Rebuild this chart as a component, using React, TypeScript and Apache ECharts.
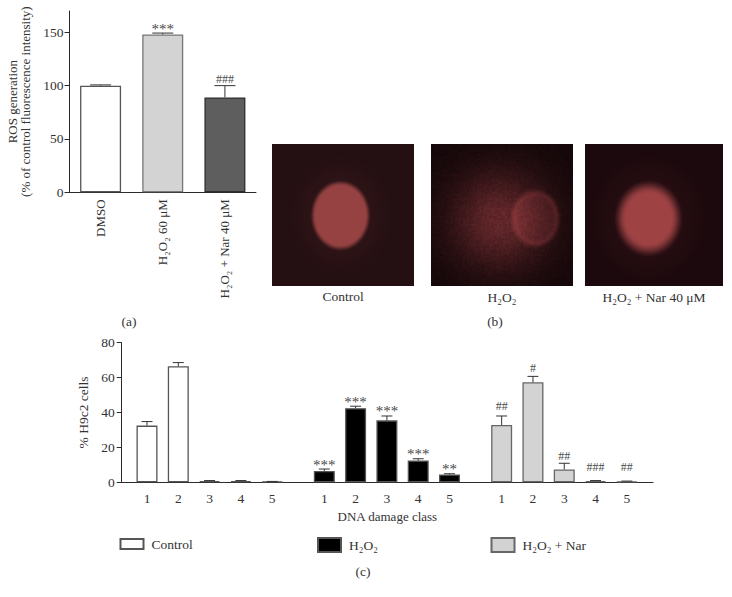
import React, { useEffect, useRef } from "react";
import * as echarts from "echarts";

const FONT = '"Liberation Serif", serif';
const INK = "#2b2b2b";

// Panel (a)
const rosCategories = ["DMSO", "H₂O₂ 60 μM", "H₂O₂ + Nar 40 μM"];
const rosValues = [100, 148, 89];
const rosHighs = [100.7, 149.3, 100];
const rosMarks = ["", "***", "###"];
const rosColors = ["#ffffff", "#d3d3d3", "#5e5e5e"];
const rosBorders = ["#555555", "#777777", "#2e2e2e"];
const rosTicks = [0, 50, 100, 150];

// Panel (c)
const damageClasses = ["1", "2", "3", "4", "5"];
const controlValues = [32.5, 66.5, 0.7, 0.7, 0.4];
const controlHighs = [34.8, 68.6, 1, 1, 0.5];
const controlMarks = ["", "", "", "", ""];
const h2o2Values = [6.5, 42.5, 35.5, 12.5, 4.5];
const h2o2Highs = [7.6, 43.6, 38, 13.5, 4.9];
const h2o2Marks = ["***", "***", "***", "***", "**"];
const narValues = [32.8, 57.3, 7.4, 0.7, 0.5];
const narHighs = [38, 60.7, 10.9, 1, 0.7];
const narMarks = ["##", "#", "##", "###", "##"];

// Panel (b) captions
const photoCaptions = ["Control", "H₂O₂", "H₂O₂ + Nar 40 μM"];

function smooth(a: number, b: number, x: number) {
  const t = Math.min(1, Math.max(0, (x - a) / (b - a)));
  return t * t * (3 - 2 * t);
}

// Texture for the micrograph panels: a fixed hash, coarse like the photo's grain.
function grain(x: number, y: number) {
  const bx = Math.floor(x / 2);
  const by = Math.floor(y / 2);
  const h = Math.sin(bx * 127.1 + by * 311.7) * 43758.5453;
  return h - Math.floor(h) - 0.5;
}

function paintPhoto(
  w: number,
  h: number,
  shade: (x: number, y: number, n: number) => [number, number, number]
) {
  const c = document.createElement("canvas");
  c.width = w;
  c.height = h;
  const ctx = c.getContext("2d")!;
  const img = ctx.createImageData(w, h);
  for (let y = 0; y < h; y++) {
    for (let x = 0; x < w; x++) {
      const [r, g, b] = shade(x, y, grain(x, y));
      const i = (y * w + x) * 4;
      img.data[i] = r;
      img.data[i + 1] = g;
      img.data[i + 2] = b;
      img.data[i + 3] = 255;
    }
  }
  ctx.putImageData(img, 0, 0);
  return c.toDataURL("image/png");
}

const mix = (a: number[], b: number[], t: number): [number, number, number] => [
  a[0] + (b[0] - a[0]) * t,
  a[1] + (b[1] - a[1]) * t,
  a[2] + (b[2] - a[2]) * t,
];

function controlPhoto() {
  return paintPhoto(142, 142, (x, y) => {
    const d = Math.hypot((x - 68) / 28, (y - 71) / 33);
    const halo = 0.08 * (1 - smooth(0.9, 2, d));
    return mix([36, 15, 18], [150, 66, 66], Math.max(halo, 1 - smooth(0.88, 1.12, d)));
  });
}

function damagedPhoto() {
  return paintPhoto(142, 142, (x, y, n) => {
    const d = Math.hypot((x - 68) / 58, (y - 76) / 58);
    const ringD = Math.hypot((x - 104) / 24, (y - 74) / 28);
    const cloud = Math.exp(-d * d * 1.5) * 0.6;
    const core = (1 - smooth(0.85, 1.12, ringD)) * 0.22;
    const ring = Math.exp(-Math.pow((ringD - 0.88) / 0.12, 2)) * 0.1;
    const t = Math.max(0, cloud + core + ring + n * (0.04 + cloud * 0.16));
    return mix([20, 7, 9], [150, 60, 64], Math.min(1, t));
  });
}

function narPhoto() {
  return paintPhoto(138, 142, (x, y) => {
    const d = Math.hypot((x - 63) / 26, (y - 74) / 29);
    const core = 1 - smooth(0.85, 1.42, d);
    const far = 0.06 * (1 - smooth(1.3, 2.4, d));
    return mix([28, 9, 13], [158, 66, 68], Math.max(core, far));
  });
}

function errorSeries(
  values: number[],
  highs: number[],
  marks: string[],
  index: number,
  capHalf: number,
  markGaps: number[]
) {
  return {
    type: "custom",
    xAxisIndex: index,
    yAxisIndex: index,
    z: 5,
    silent: true,
    clip: false,
    data: values.map((v, i) => [i, v, highs[i], marks[i]]),
    renderItem: (_: any, api: any) => {
      const i = api.value(0);
      const base = api.coord([i, api.value(1)]);
      const top = api.coord([i, api.value(2)]);
      const mark = marks[i];
      const line = { stroke: "#333333", lineWidth: 1 };
      const children: any[] = [
        { type: "line", shape: { x1: base[0], y1: base[1], x2: base[0], y2: top[1] }, style: line },
        { type: "line", shape: { x1: base[0] - capHalf, y1: top[1], x2: base[0] + capHalf, y2: top[1] }, style: line },
      ];
      if (mark) {
        const star = mark.charAt(0) === "*";
        children.push({
          type: "text",
          x: base[0],
          y: top[1] - markGaps[i] + (star ? 3 : 0),
          style: {
            text: mark,
            fontFamily: FONT,
            fontSize: star ? 15 : 12,
            fill: "#4a4a4a",
            align: "center",
            verticalAlign: "bottom",
          },
        });
      }
      return { type: "group", children };
    },
  };
}

function barSeries(name: string, values: number[], index: number, fill: string, border: string) {
  return {
    name,
    type: "bar",
    xAxisIndex: index,
    yAxisIndex: index,
    barWidth: 21,
    data: values,
    itemStyle: { color: fill, borderColor: border, borderWidth: 1.3 },
  };
}

const axisLine = { lineStyle: { color: INK, width: 1 } };
const axisText = { color: "#333333", fontFamily: FONT, fontSize: 13.5 };

function capt(text: string, x: number, y: number, size = 13.5) {
  return {
    type: "text",
    x,
    y,
    style: {
      text,
      fontFamily: FONT,
      fontSize: size,
      fill: "#333333",
      align: "center",
      verticalAlign: "middle",
      textAlign: "center",
      textVerticalAlign: "middle",
    },
  };
}

function legendAt(name: string, left: number, top: number, h: number) {
  return {
    data: [name],
    left,
    top,
    icon: "rect",
    itemWidth: 23,
    itemHeight: h,
    selectedMode: false,
    padding: 0,
    textStyle: { fontFamily: FONT, fontSize: 13.5, color: "#333333", padding: [0, 0, 0, 3] },
  };
}

export default function App() {
  const ref = useRef<HTMLDivElement>(null);
  useEffect(() => {
    const chart = echarts.init(ref.current!, undefined, { renderer: "svg" });
    const subGrids = [131.35, 308.65, 486];
    const baseLeft = 121.7;
    const baseW = 531.3;
    const subX = (i: number) => ({
      gridIndex: i,
      type: "category",
      data: damageClasses,
      axisLine: { show: false },
      axisTick: { alignWithLabel: true, length: 4, lineStyle: { color: INK } },
      axisLabel: { ...axisText, margin: 9 },
    });
    const subY = (i: number) => ({ gridIndex: i, type: "value", min: 0, max: 80, show: false });
    chart.setOption({
      animation: false,
      backgroundColor: "#ffffff",
      grid: [
        { left: 69.5, top: 11, width: 186.5, height: 181.3 },
        { left: baseLeft, top: 342.7, width: baseW, height: 139.6 },
        { left: subGrids[0], top: 342.7, width: 156.5, height: 139.6 },
        { left: subGrids[1], top: 342.7, width: 156.5, height: 139.6 },
        { left: subGrids[2], top: 342.7, width: 156.5, height: 139.6 },
      ],
      xAxis: [
        {
          gridIndex: 0,
          type: "category",
          data: rosCategories,
          axisLine,
          axisTick: { alignWithLabel: true, length: 4, lineStyle: { color: INK } },
          axisLabel: { ...axisText, fontSize: 13, rotate: 90, margin: 7, interval: 0 },
        },
        {
          gridIndex: 1,
          type: "value",
          min: 0,
          max: 1,
          axisLine: { ...axisLine, onZero: false },
          axisTick: { show: false },
          axisLabel: { show: false },
          splitLine: { show: false },
          name: "DNA damage class",
          nameLocation: "middle",
          nameGap: 28,
          nameTextStyle: { ...axisText, fontSize: 13 },
        },
        subX(2),
        subX(3),
        subX(4),
      ],
      yAxis: [
        {
          gridIndex: 0,
          type: "value",
          min: 0,
          max: 170,
          interval: 50,
          axisLine: { show: true, ...axisLine },
          axisTick: { show: true, length: 5, lineStyle: { color: INK }, customValues: rosTicks },
          axisLabel: { ...axisText, margin: 6, customValues: rosTicks },
          splitLine: { show: false },
          name: "ROS generation\n(% of control fluorescence intensity)",
          nameLocation: "middle",
          nameRotate: 90,
          nameGap: 38,
          nameTextStyle: { ...axisText, fontSize: 13, lineHeight: 13 },
        },
        {
          gridIndex: 1,
          type: "value",
          min: 0,
          max: 80,
          interval: 20,
          axisLine: { show: true, ...axisLine },
          axisTick: { show: true, length: 5, lineStyle: { color: INK } },
          axisLabel: { ...axisText, margin: 7 },
          splitLine: { show: false },
          name: "% H9c2 cells",
          nameLocation: "middle",
          nameRotate: 90,
          nameGap: 30,
          nameTextStyle: { ...axisText },
        },
        subY(2),
        subY(3),
        subY(4),
      ],
      legend: [
        legendAt("Control", 119.5, 537, 10),
        legendAt("H₂O₂", 317, 537, 14),
        legendAt("H₂O₂ + Nar", 490.5, 537, 14),
      ],
      series: [
        {
          type: "bar",
          xAxisIndex: 0,
          yAxisIndex: 0,
          barWidth: 41,
          data: rosValues.map((v, i) => ({
            value: v,
            itemStyle: { color: rosColors[i], borderColor: rosBorders[i], borderWidth: 1.3 },
          })),
        },
        errorSeries(rosValues, rosHighs, rosMarks, 0, 10.5, [0, 0, 1]),
        barSeries("Control", controlValues, 2, "#ffffff", "#555555"),
        errorSeries(controlValues, controlHighs, controlMarks, 2, 5.5, [0, 0, 0, 0, 0]),
        barSeries("H₂O₂", h2o2Values, 3, "#000000", "#555555"),
        errorSeries(h2o2Values, h2o2Highs, h2o2Marks, 3, 5.5, [0, 0, 0, 0, 0]),
        barSeries("H₂O₂ + Nar", narValues, 4, "#d3d3d3", "#666666"),
        errorSeries(narValues, narHighs, narMarks, 4, 5.5, [4, 2, 1, 8, 8]),
      ],
      graphic: [
        { type: "image", x: 272, y: 144, style: { image: controlPhoto(), x: 0, y: 0, width: 142, height: 142 } },
        { type: "image", x: 431, y: 144, style: { image: damagedPhoto(), x: 0, y: 0, width: 142, height: 142 } },
        { type: "image", x: 585, y: 144, style: { image: narPhoto(), x: 0, y: 0, width: 138, height: 142 } },
        capt(photoCaptions[0], 343, 296),
        capt(photoCaptions[1], 502, 297),
        capt(photoCaptions[2], 654, 297),
        capt("(a)", 129, 321),
        capt("(b)", 495, 321),
        capt("(c)", 363, 571),
      ],
    });
    return () => chart.dispose();
  }, []);
  return (
    <div
      ref={ref}
      style={{ position: "absolute", left: 0, top: 0, width: 732, height: 597, background: "#fff" }}
    />
  );
}
